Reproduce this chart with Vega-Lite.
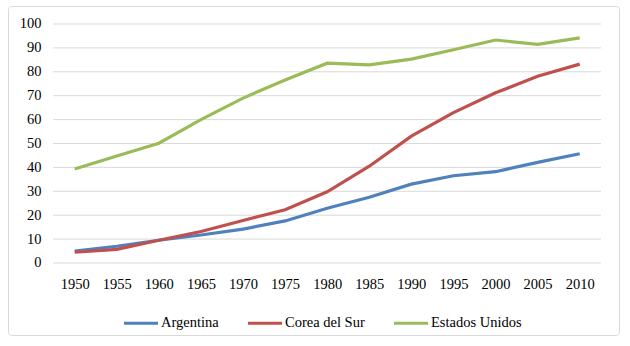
{
  "$schema": "https://vega.github.io/schema/vega-lite/v6.json",
  "width": 611,
  "height": 329,
  "autosize": {"type": "none"},
  "padding": {"left": 8, "top": 6, "right": 11, "bottom": 11},
  "background": "white",
  "config": {
    "view": {"stroke": "#d9d9d9", "strokeWidth": 1, "cornerRadius": 3},
    "font": "Times New Roman, Liberation Serif, Tinos, DejaVu Serif, serif"
  },
  "datasets": {
    "grid": [
      {"value": 0}, {"value": 10}, {"value": 20}, {"value": 30}, {"value": 40}, {"value": 50},
      {"value": 60}, {"value": 70}, {"value": 80}, {"value": 90}, {"value": 100}
    ],
    "series": [
      {"country": "Argentina", "year": 1950, "value": 5.0},
      {"country": "Argentina", "year": 1955, "value": 7.0},
      {"country": "Argentina", "year": 1960, "value": 9.5},
      {"country": "Argentina", "year": 1965, "value": 11.7},
      {"country": "Argentina", "year": 1970, "value": 14.2},
      {"country": "Argentina", "year": 1975, "value": 17.6},
      {"country": "Argentina", "year": 1980, "value": 22.9},
      {"country": "Argentina", "year": 1985, "value": 27.5},
      {"country": "Argentina", "year": 1990, "value": 33.0},
      {"country": "Argentina", "year": 1995, "value": 36.5},
      {"country": "Argentina", "year": 2000, "value": 38.2},
      {"country": "Argentina", "year": 2005, "value": 42.1},
      {"country": "Argentina", "year": 2010, "value": 45.7},
      {"country": "Corea del Sur", "year": 1950, "value": 4.5},
      {"country": "Corea del Sur", "year": 1955, "value": 5.7},
      {"country": "Corea del Sur", "year": 1960, "value": 9.5},
      {"country": "Corea del Sur", "year": 1965, "value": 13.2},
      {"country": "Corea del Sur", "year": 1970, "value": 17.8},
      {"country": "Corea del Sur", "year": 1975, "value": 22.3},
      {"country": "Corea del Sur", "year": 1980, "value": 29.8},
      {"country": "Corea del Sur", "year": 1985, "value": 40.5},
      {"country": "Corea del Sur", "year": 1990, "value": 53.1},
      {"country": "Corea del Sur", "year": 1995, "value": 62.9},
      {"country": "Corea del Sur", "year": 2000, "value": 71.2},
      {"country": "Corea del Sur", "year": 2005, "value": 78.1},
      {"country": "Corea del Sur", "year": 2010, "value": 83.2},
      {"country": "Estados Unidos", "year": 1950, "value": 39.3},
      {"country": "Estados Unidos", "year": 1955, "value": 44.8},
      {"country": "Estados Unidos", "year": 1960, "value": 50.1},
      {"country": "Estados Unidos", "year": 1965, "value": 60.0},
      {"country": "Estados Unidos", "year": 1970, "value": 69.0},
      {"country": "Estados Unidos", "year": 1975, "value": 76.6},
      {"country": "Estados Unidos", "year": 1980, "value": 83.6},
      {"country": "Estados Unidos", "year": 1985, "value": 82.9},
      {"country": "Estados Unidos", "year": 1990, "value": 85.3},
      {"country": "Estados Unidos", "year": 1995, "value": 89.2},
      {"country": "Estados Unidos", "year": 2000, "value": 93.3},
      {"country": "Estados Unidos", "year": 2005, "value": 91.5},
      {"country": "Estados Unidos", "year": 2010, "value": 94.2}
    ]
  },
  "layer": [
    {
      "data": {"name": "grid"},
      "mark": {"type": "rule", "color": "#d9d9d9", "strokeWidth": 1},
      "encoding": {
        "x": {
          "datum": 1947.42,
          "type": "quantitative",
          "scale": {"domain": [1942.075, 2014.669], "nice": false, "zero": false},
          "axis": {
            "values": [1950, 1955, 1960, 1965, 1970, 1975, 1980, 1985, 1990, 1995, 2000, 2005, 2010],
            "format": "d", "title": null, "domain": false, "ticks": false, "grid": false,
            "labelFontSize": 14.5, "labelColor": "black",
            "labelPadding": 0, "offset": -58, "labelBaseline": "top", "labelFlush": false, "labelOverlap": false
          }
        },
        "x2": {"datum": 2012.53},
        "y": {
          "field": "value",
          "type": "quantitative",
          "scale": {"domain": [-30.13, 107.53], "nice": false, "zero": false},
          "axis": {
            "values": [0, 10, 20, 30, 40, 50, 60, 70, 80, 90, 100],
            "title": null, "domain": false, "ticks": false, "grid": false,
            "labelFontSize": 14.5, "labelColor": "black",
            "labelPadding": 0, "offset": -33, "labelFlush": false, "labelOverlap": false
          }
        }
      }
    },
    {
      "data": {"name": "series"},
      "mark": {"type": "line", "strokeWidth": 3.2},
      "encoding": {
        "x": {
          "field": "year",
          "type": "quantitative",
          "scale": {"domain": [1942.075, 2014.669], "nice": false, "zero": false},
          "axis": {
            "values": [1950, 1955, 1960, 1965, 1970, 1975, 1980, 1985, 1990, 1995, 2000, 2005, 2010],
            "format": "d", "title": null, "domain": false, "ticks": false, "grid": false,
            "labelFontSize": 14.5, "labelColor": "black",
            "labelPadding": 0, "offset": -58, "labelBaseline": "top", "labelFlush": false, "labelOverlap": false
          }
        },
        "y": {
          "field": "value",
          "type": "quantitative",
          "scale": {"domain": [-30.13, 107.53], "nice": false, "zero": false},
          "axis": {
            "values": [0, 10, 20, 30, 40, 50, 60, 70, 80, 90, 100],
            "title": null, "domain": false, "ticks": false, "grid": false,
            "labelFontSize": 14.5, "labelColor": "black",
            "labelPadding": 0, "offset": -33, "labelFlush": false, "labelOverlap": false
          }
        },
        "color": {
          "field": "country",
          "type": "nominal",
          "scale": {
            "domain": ["Argentina", "Corea del Sur", "Estados Unidos"],
            "range": ["#4F81BD", "#C0504D", "#9BBB59"]
          },
          "legend": {
            "orient": "none", "legendX": 114, "legendY": 298, "direction": "horizontal",
            "title": null, "symbolType": "stroke", "symbolSize": 1156, "symbolStrokeWidth": 3.2,
            "labelFontSize": 14.5, "labelColor": "black",
            "labelOffset": 1, "columnPadding": 22, "padding": 0
          }
        }
      }
    }
  ]
}
